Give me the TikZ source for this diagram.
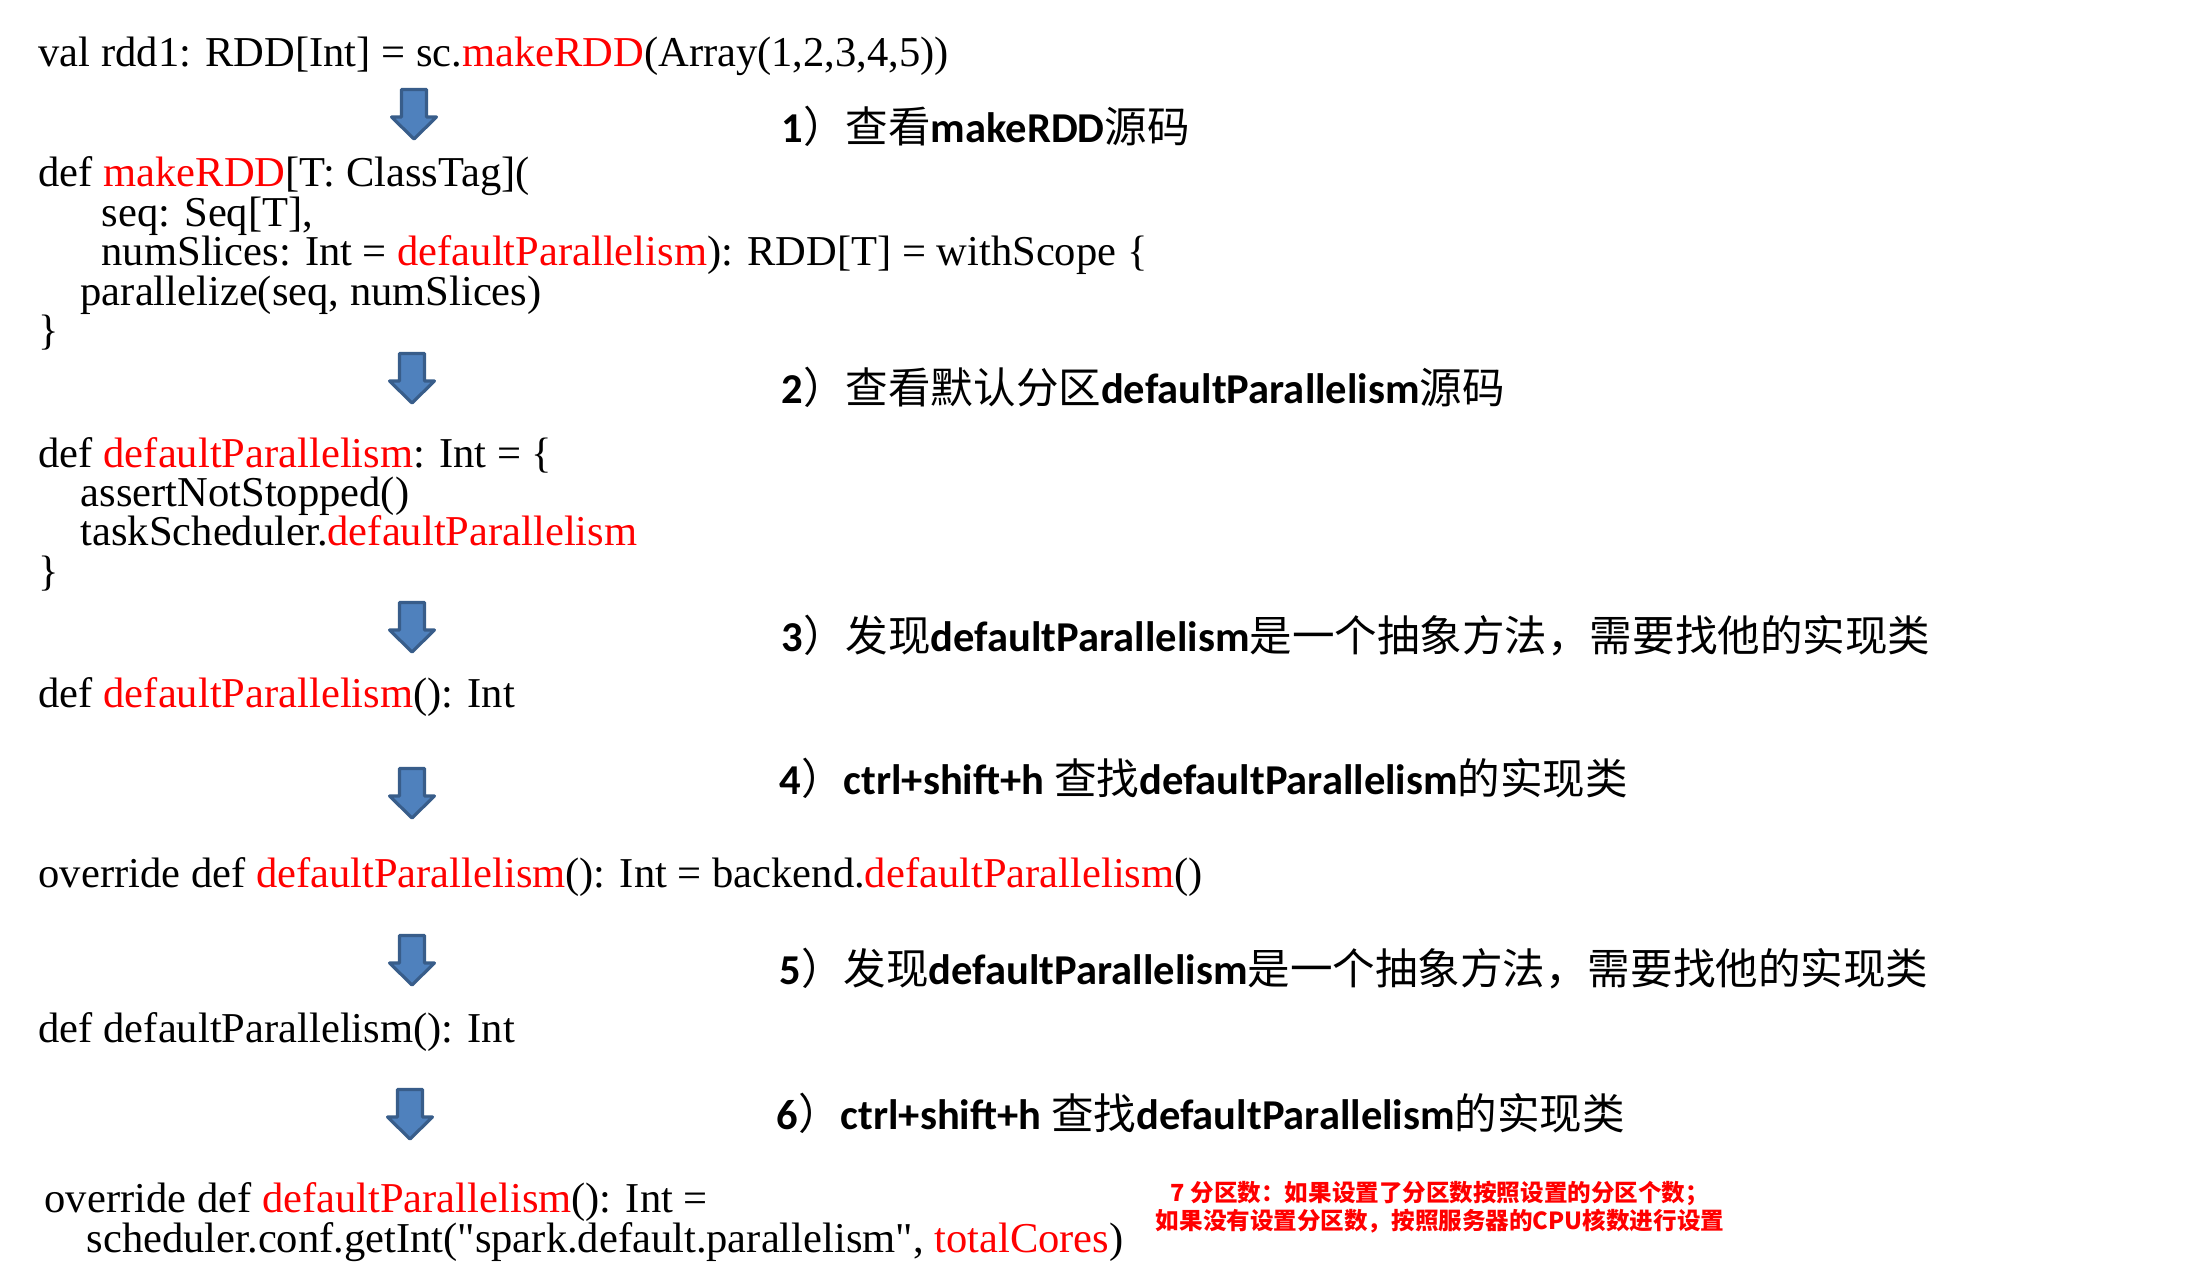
\documentclass[tikz,border=0pt]{standalone}
\usepackage{fontspec}
\setmainfont{Liberation Serif}
\newfontfamily\plainserif{Liberation Serif}
\newfontfamily\cjk{Noto Sans CJK SC}
\newfontfamily\calibri{Carlito}
\usetikzlibrary{positioning}

\definecolor{codered}{HTML}{FF0000}
\definecolor{arrowblue}{HTML}{4F81BD}
\definecolor{arrowedge}{HTML}{385D8A}
\newcommand{\hl}[1]{\textcolor{codered}{#1}}
\newcommand{\zh}[1]{{\cjk\mdseries #1}}
\newcommand{\dq}{{\plainserif\symbol{34}}}

\begin{document}
\begin{tikzpicture}[
    x=0.01cm, y=-0.01cm,
    code/.style={anchor=base west, inner sep=0pt, font=\fontsize{12.1}{14}\selectfont},
    note/.style={anchor=west, inner sep=0pt, font=\calibri\bfseries\fontsize{12.1}{14}\selectfont},
    tip/.style={align=center, inner sep=0pt, text=codered, font=\cjk\bfseries\fontsize{6.7}{6.9}\selectfont},
    downarrow/.pic={
        \filldraw[fill=arrowblue, draw=arrowedge, line width=0.9pt, line join=round]
            (-12.5,1.5) -- (12.5,1.5) -- (12.5,29) -- (22.5,29) -- (0,51)
            -- (-22.5,29) -- (-12.5,29) -- cycle;
    }
]
    \useasboundingbox (0,0) rectangle (2206,1279);

    % call site
    \node[code] (call) at (38,67) {val rdd1: RDD[Int] = sc.\hl{makeRDD}(Array(1,2,3,4,5))};
    \pic (arr1) at (414,88) {downarrow};
    \node[note] (step1) at (781,126) {1\zh{）查看}makeRDD\zh{源码}};

    % makeRDD
    \node[code] (mk1) at (38,187) {def \hl{makeRDD}[T: ClassTag](};
    \node[code] (mk2) at (101,226) {seq: Seq[T],};
    \node[code] (mk3) at (101,265) {numSlices: Int = \hl{defaultParallelism}): RDD[T] = withScope \{};
    \node[code] (mk4) at (80,305) {parallelize(seq, numSlices)};
    \node[code] (mk5) at (38,344) {\}};
    \pic (arr2) at (412,352) {downarrow};
    \node[note] (step2) at (781,387) {2\zh{）查看默认分区}defaultParallelism\zh{源码}};

    % SparkContext.defaultParallelism
    \node[code] (dp1) at (38,467) {def \hl{defaultParallelism}: Int = \{};
    \node[code] (dp2) at (80,506) {assertNotStopped()};
    \node[code] (dp3) at (80,545) {taskScheduler.\hl{defaultParallelism}};
    \node[code] (dp4) at (38,585) {\}};
    \pic (arr3) at (412,601) {downarrow};
    \node[note] (step3) at (781,636) {3\zh{）发现}defaultParallelism\zh{是一个抽象方法，需要找他的实现类}};

    % TaskScheduler
    \node[code] (ts) at (38,707) {def \hl{defaultParallelism}(): Int};
    \pic (arr4) at (412,767) {downarrow};
    \node[note] (step4) at (779,778) {4\zh{）}ctrl+shift+h \zh{查找}defaultParallelism\zh{的实现类}};

    % TaskSchedulerImpl
    \node[code] (tsi) at (38,887) {override def \hl{defaultParallelism}(): Int = backend.\hl{defaultParallelism}()};
    \pic (arr5) at (412,934) {downarrow};
    \node[note] (step5) at (779,969) {5\zh{）发现}defaultParallelism\zh{是一个抽象方法，需要找他的实现类}};

    % SchedulerBackend
    \node[code] (sb) at (38,1042) {def defaultParallelism(): Int};
    \pic (arr6) at (410,1088) {downarrow};
    \node[note] (step6) at (776,1113) {6\zh{）}ctrl+shift+h \zh{查找}defaultParallelism\zh{的实现类}};

    % LocalSchedulerBackend
    \node[code] (lsb1) at (44,1212) {override def \hl{defaultParallelism}(): Int =};
    \node[code] (lsb2) at (86,1252) {scheduler.conf.getInt(\dq spark.default.parallelism\dq, \hl{totalCores})};
    \node[tip] (tip7) at (1440,1207) {7 分区数：如果设置了分区数按照设置的分区个数；\\如果没有设置分区数，按照服务器的CPU核数进行设置};
\end{tikzpicture}
\end{document}
